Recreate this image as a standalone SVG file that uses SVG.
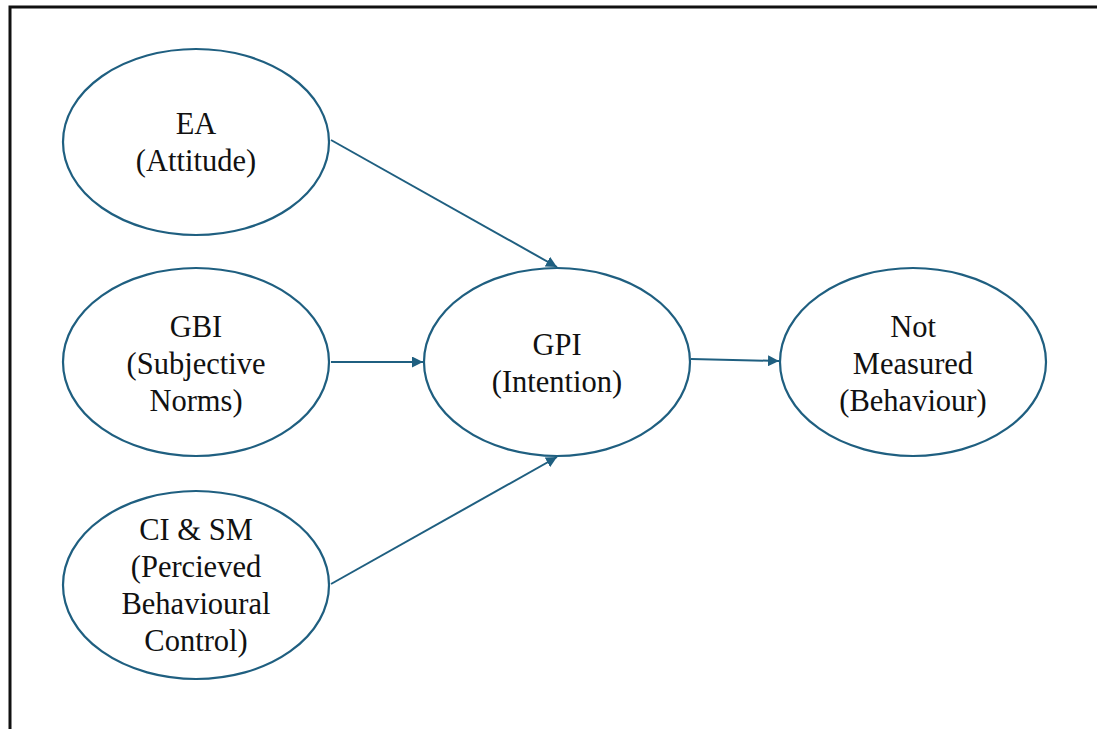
<svg xmlns="http://www.w3.org/2000/svg" width="1097" height="729" viewBox="0 0 1097 729">
  <style>
    .node ellipse { fill: #ffffff; stroke: #1f5f80; stroke-width: 2.2; }
    .node text { font-family: 'Liberation Serif', 'DejaVu Serif', serif; font-size: 30.5px; fill: #111111; text-anchor: middle; }
    .edge { stroke: #1f5f80; stroke-width: 2; fill: none; marker-end: url(#arrow); }
  </style>
  <defs>
    <marker id="arrow" viewBox="0 0 10 10" refX="10" refY="5" markerWidth="5.5" markerHeight="5.5" orient="auto" markerUnits="strokeWidth">
      <path d="M0,0 L10,5 L0,10 z" fill="#1f5f80"/>
    </marker>
  </defs>
  <rect width="1097" height="729" fill="#ffffff"/>
  <!-- frame -->
  <path d="M10,740 L10,7 L1110,7" fill="none" stroke="#111111" stroke-width="3"/>

  <g id="connectors">
    <line class="edge" x1="331" y1="140" x2="557" y2="267"/>
    <line class="edge" x1="331" y1="362" x2="423" y2="362"/>
    <line class="edge" x1="331" y1="584" x2="557" y2="457"/>
    <line class="edge" x1="691" y1="359" x2="779" y2="361"/>
  </g>

  <g id="ea" class="node">
    <ellipse cx="196" cy="142" rx="133" ry="93"/>
    <text x="196" y="134">EA</text>
    <text x="196" y="171">(Attitude)</text>
  </g>
  <g id="gbi" class="node">
    <ellipse cx="196" cy="362" rx="133" ry="94"/>
    <text x="196" y="337">GBI</text>
    <text x="196" y="374">(Subjective</text>
    <text x="196" y="411">Norms)</text>
  </g>
  <g id="cism" class="node">
    <ellipse cx="196" cy="585" rx="133" ry="94"/>
    <text x="196" y="540">CI &amp; SM</text>
    <text x="196" y="577">(Percieved</text>
    <text x="196" y="614">Behavioural</text>
    <text x="196" y="651">Control)</text>
  </g>
  <g id="gpi" class="node">
    <ellipse cx="557" cy="362" rx="133" ry="94"/>
    <text x="557" y="355">GPI</text>
    <text x="557" y="392">(Intention)</text>
  </g>
  <g id="behaviour" class="node">
    <ellipse cx="913" cy="362" rx="133" ry="94"/>
    <text x="913" y="337">Not</text>
    <text x="913" y="374">Measured</text>
    <text x="913" y="411">(Behaviour)</text>
  </g>
</svg>
